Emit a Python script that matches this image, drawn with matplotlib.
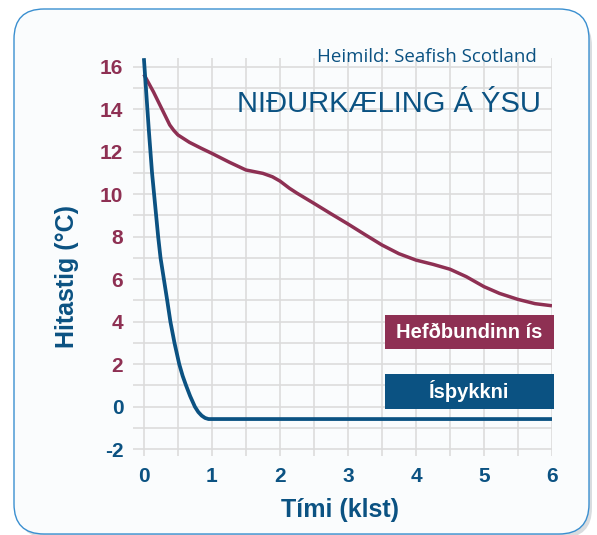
import numpy as np
import matplotlib
matplotlib.use("Agg")
import matplotlib.pyplot as plt
from matplotlib.patches import FancyBboxPatch, Rectangle
from matplotlib.transforms import IdentityTransform

# ---- data ----
hefd_t = [0.0, 0.14, 0.26, 0.38, 0.44, 0.5, 0.67, 0.85, 1.0, 1.26, 1.5, 1.75, 1.89, 2.0, 2.14,
          2.25, 2.5, 2.75, 3.0, 3.25, 3.5, 3.75, 4.0, 4.25, 4.5, 4.74, 5.0, 5.23, 5.5, 5.75, 6.0]
hefd_v = [15.64, 14.82, 14.04, 13.26, 13.0, 12.79, 12.44, 12.15, 11.92, 11.5, 11.14, 10.98, 10.82, 10.62, 10.28,
          10.05, 9.57, 9.08, 8.6, 8.1, 7.61, 7.2, 6.9, 6.7, 6.47, 6.12, 5.65, 5.33, 5.05, 4.85, 4.75]
isp_t = [0.0, 0.03, 0.073, 0.12, 0.15, 0.18, 0.21, 0.245, 0.294, 0.343, 0.39, 0.45, 0.52, 0.57,
         0.62, 0.68, 0.75, 0.8, 0.85, 0.9, 0.95, 1.0, 6.0]
isp_v = [16.4, 15.0, 13.0, 11.0, 10.0, 9.0, 8.0, 7.0, 6.0, 5.0, 4.0, 3.0, 2.0, 1.45,
         1.0, 0.5, 0.0, -0.25, -0.42, -0.53, -0.58, -0.58, -0.58]
x_ticks = [0, 1, 2, 3, 4, 5, 6]
y_ticks = [-2, 0, 2, 4, 6, 8, 10, 12, 14, 16]

title = "NIÐURKÆLING Á ÝSU"
source = "Heimild: Seafish Scotland"
xlabel = "Tími (klst)"
ylabel = "Hitastig (°C)"
lab_hefd = "Hefðbundinn ís"
lab_isp = "Ísþykkni"

MAROON = "#8E3053"
BLUE = "#0B5282"
GRID = "#dcdcdc"

W, H = 597, 535
fig = plt.figure(figsize=(W / 100, H / 100), dpi=100)
fig.patch.set_facecolor("white")

# rounded frame with shadow (pixel coordinates)
shadow = FancyBboxPatch((18, -3), 574, 522, boxstyle="round,pad=0,rounding_size=30",
                        transform=IdentityTransform(), facecolor="#d0d4d8", edgecolor="none",
                        alpha=0.8, zorder=-2)
frame = FancyBboxPatch((14, 1), 575, 525, boxstyle="round,pad=0,rounding_size=30",
                       transform=IdentityTransform(), facecolor="#fafcfd", edgecolor="#3a8fd0",
                       linewidth=1.0, zorder=-1)
fig.patches.extend([shadow, frame])

ax = fig.add_axes([133 / W, 1 - 455.6 / H, (552 - 133) / W, (455.6 - 58.2) / H])
ax.set_zorder(1)
ax.set_facecolor("none")
ax.set_xlim(-0.16, 6)
ax.set_ylim(-2.3, 16.4)

ax.set_xticks(x_ticks)
ax.set_xticks(np.arange(0.5, 6, 1.0), minor=True)
ax.set_yticks(y_ticks)
ax.set_yticks(np.arange(-1, 16, 2), minor=True)
ax.grid(which="both", color=GRID, linewidth=1.2, zorder=0)
ax.set_axisbelow(True)
ax.tick_params(which="both", length=0)
for s in ax.spines.values():
    s.set_visible(False)

ax.set_xticklabels([str(v) for v in x_ticks], fontsize=15, fontweight="bold",
                   color=BLUE, family="Liberation Sans")
ax.set_yticklabels([str(v) for v in y_ticks], fontsize=15, fontweight="bold",
                   family="Liberation Sans")
for lbl, v in zip(ax.get_yticklabels(), y_ticks):
    lbl.set_color(BLUE if v <= 0 else MAROON)
ax.tick_params(axis="x", pad=8)
ax.tick_params(axis="y", pad=7)

ax.plot(hefd_t, hefd_v, color=MAROON, linewidth=2.5, solid_capstyle="butt",
        solid_joinstyle="round", zorder=3)
ax.plot(isp_t, isp_v, color=BLUE, linewidth=2.7, solid_capstyle="butt",
        solid_joinstyle="round", zorder=3)

# labels
fig.text(340 / W, 1 - 510 / H, xlabel, fontsize=18, fontweight="bold", color=BLUE,
         family="Liberation Sans", ha="center", va="center")
fig.text(67 / W, 1 - 277 / H, ylabel, fontsize=18, fontweight="bold", color=BLUE,
         family="Liberation Sans", ha="center", va="center", rotation=90)

fig.text(541 / W, 1 - 104 / H, title, fontsize=21, color=BLUE,
         family="Liberation Sans", ha="right", va="center", zorder=4)
fig.text(537 / W, 1 - 57 / H, source, fontsize=13.5, color=BLUE,
         family="Open Sans", ha="right", va="center", zorder=4)

# legend boxes
for (y0, y1, col, txt) in [(315, 349, MAROON, lab_hefd), (374, 409, BLUE, lab_isp)]:
    r = Rectangle((385, H - y1), 554 - 385, y1 - y0, transform=IdentityTransform(),
                  facecolor=col, edgecolor="none", zorder=5)
    fig.patches.append(r)
    fig.text((385 + 554) / 2 / W, 1 - (y0 + y1) / 2 / H, txt, fontsize=14.5, fontweight="bold",
             color="white", family=["Liberation Sans Narrow", "Liberation Sans"],
             ha="center", va="center", zorder=6)

fig.savefig("out.png", dpi=100, facecolor="white")
